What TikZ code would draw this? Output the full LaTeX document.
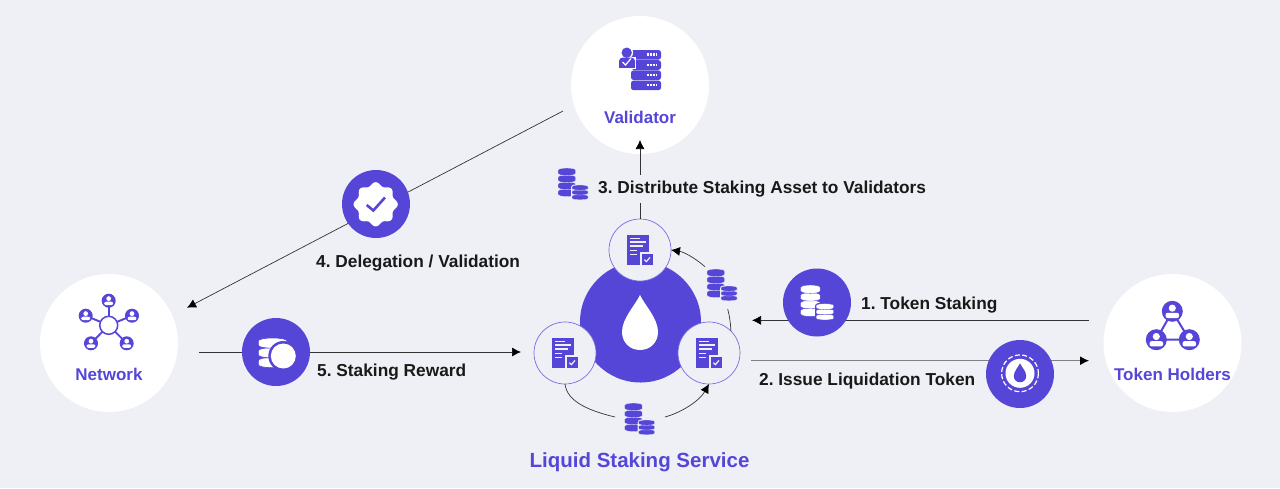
\documentclass[tikz,border=0pt]{standalone}
\usepackage{fontspec}
\usetikzlibrary{arrows.meta}
\setmainfont{Liberation Sans}
\definecolor{pbl}{HTML}{5546D8}
\definecolor{ring}{HTML}{7A6CE4}
\definecolor{page}{HTML}{EFF0F5}
\definecolor{wire}{HTML}{333333}
% one coin: left, top, width, height
\newcommand{\coindisc}[4]{(#1,#2+#4*.3) .. controls (#1,#2-#4*.1) and (#1+#3,#2-#4*.1) .. (#1+#3,#2+#4*.3)
  -- (#1+#3,#2+#4*.7) .. controls (#1+#3,#2+#4*1.1) and (#1,#2+#4*1.1) .. (#1,#2+#4*.7) -- cycle}

\begin{document}
\begin{tikzpicture}
  [ x=1pt, y=-1pt
  , hub/.style={circle, fill=white, minimum size=138pt, inner sep=0pt, outer sep=0pt}
  , doc/.style={circle, draw=ring, line width=.7pt, fill=page, minimum size=62pt, inner sep=0pt, outer sep=0pt}
  , badge/.style={circle, fill=pbl, minimum size=68pt, inner sep=0pt, outer sep=0pt}
  , core/.style={circle, fill=pbl, minimum size=121pt, inner sep=0pt, outer sep=0pt}
  , hubtext/.style={text=pbl, font=\bfseries\frenchspacing\fontsize{17}{20}\selectfont, inner sep=0pt}
  , steptext/.style={text=black!90, anchor=west, font=\bfseries\frenchspacing\fontsize{17.3}{20}\selectfont, inner sep=0pt}
  , flow/.style={draw=wire, line width=.7pt, -{Latex[length=9pt,width=9pt,black]}}
  , plainflow/.style={draw=wire, line width=.7pt}
  , pics/coins/.style 2 args={code={
      \foreach \y in {21,14,7,0}
        \filldraw[fill=#1, draw=#2, line width=.35pt] \coindisc{0}{\y}{17.7}{7.6};
      \fill[#2, rounded corners=3pt] (13,16.5) rectangle (31,32.4);
      \foreach \y in {26.6,21.8,17}
        \filldraw[fill=#1, draw=#2, line width=.3pt] \coindisc{14}{\y}{16}{5.2};
    }}
  , pics/docicon/.style={code={
      \fill[pbl] (-12.7,-15.5) rectangle (9,14.7);
      \foreach \y/\w in {-11.7/10,-8/16,-4/13,.3/7,4.3/7}
        \draw[page, line width=1.3pt] (-10,\y) -- ++(\w,0);
      \fill[page] (.4,2.4) rectangle (14,16.4);
      \fill[pbl] (1.7,3.7) rectangle (12.7,15);
      \draw[page, line width=1.2pt] (4.4,9.6) -- (6.4,11.6) -- (10,7.4);
    }}
  , pics/person/.style={code={
      \fill[pbl] (0,0) circle (10);
      \fill[white] (0,-3) circle (3.4);
      \fill[white, rounded corners=2pt] (-6.4,1.4) rectangle (6.4,6.4);
    }}
  , pics/drop/.style={code={
      \fill (0,-27.5) .. controls (5,-17) and (18,-4) .. (18,9.5)
        .. controls (18,20) and (10,27.5) .. (0,27.5)
        .. controls (-10,27.5) and (-18,20) .. (-18,9.5)
        .. controls (-18,-4) and (-5,-17) .. (0,-27.5) -- cycle;
    }}
  ]

  \fill[page] (0,0) rectangle (1280,488);
  \useasboundingbox (0,0) rectangle (1280,488);

  % big white circles
  \node[hub] (val) at (640,85)  {};
  \node[hub] (net) at (109,343) {};
  \node[hub] (hold) at (1172.5,343) {};

  \node[hubtext, below of=val,  node distance=32pt] (valtext)  {Validator};
  \node[hubtext, below of=net,  node distance=31pt] (nettext)  {Network};
  \node[hubtext, below of=hold, node distance=31pt] (holdtext) {Token Holders};

  % service
  \node[core] (pool) at (640.5,322) {};
  \node[doc]  (docT) at (640,250)   {};
  \node[doc]  (docL) at (565,353)   {};
  \node[doc]  (docR) at (709,353)   {};

  \node[text=pbl, font=\bfseries\fontsize{20.5}{24}\selectfont, inner sep=0pt] (svctext) at (639.5,462) {Liquid Staking Service};

  % free ends
  \coordinate (valin)   at (640,140);
  \coordinate (valout)  at (563,111);
  \coordinate (netin)   at (187,307.7);
  \coordinate (netout)  at (199,352);
  \coordinate (svcin)   at (521,352);
  \coordinate (poolin)  at (752,320.3);
  \coordinate (holdout) at (1089,320.3);
  \coordinate (poolout) at (751,360.7);
  \coordinate (holdin)  at (1089,360.7);
  \coordinate (botL)    at (615,417);
  \coordinate (botR)    at (665,417);
  \coordinate (sideA)   at (727.7,309);
  \coordinate (sideB)   at (705,266.7);

  \draw[flow] (docT) -- (valin);
  \draw[flow] (valout) -- (netin);
  \draw[flow] (netout) -- (svcin);
  \draw[flow] (holdout) -- (poolin);
  \draw[-{Latex[length=9pt,width=9pt,black]}, draw=black!50, line width=1.1pt] (poolout) -- (holdin);

  \draw[plainflow] (docL.south) .. controls (567,402) and (590,411) .. (botL);
  \draw[flow] (botR) .. controls (683,412) and (700,400) .. (docR.south);
  \draw[plainflow] (docR.north east) .. controls (730.5,323) and (729.6,316) .. (sideA);
  \draw[flow] (sideB) .. controls (695,258) and (684,252) .. (docT.east);

  % labels
  \node[steptext, fill=page, inner ysep=6pt, inner xsep=1pt] (step3) at (597,189) {3. Distribute Staking Asset to Validators};
  \node[steptext] (step1) at (861,305) {1. Token Staking};
  \node[steptext] (step2) at (759,381) {2. Issue Liquidation Token};
  \node[steptext] (step4) at (316,263) {4. Delegation / Validation};
  \node[steptext] (step5) at (317,372) {5. Staking Reward};

  % badges
  \node[badge] (chk)  at (376,204)   {};
  \node[badge] (rew)  at (276,352)   {};
  \node[badge] (stk)  at (817,302.5) {};
  \node[badge] (iss)  at (1020,374)  {};

  \fill[white] plot[domain=0:360, samples=145, smooth] ({375.7+(20.4+1.7*cos(8*\x))*cos(\x)}, {204.3+(20.4+1.7*cos(8*\x))*sin(\x)}) -- cycle;
  \draw[pbl, line width=2.6pt] (366.7,205) -- (373.3,210.5) -- (385,197.5);

  % stack with disc
  \foreach \y in {357.5,347.7,338}
    \filldraw[fill=white, draw=pbl, line width=.6pt] \coindisc{258.3}{\y}{28.7}{10.2};
  \fill[pbl] (283.3,356) circle (15);
  \fill[white] (283.3,356) circle (12.5);

  \pic[scale=1.1] at (800.7,285) {coins={white}{pbl}};

  % token in dashed ring
  \fill[white] (1020,373.3) circle (14.5);
  \draw[white, line width=1.2pt, dash pattern=on 5pt off 2.4pt] (1020,373.3) circle (18.4);
  \pic[pbl, scale=.345] at (1020,372.8) {drop};

  % service icons
  \pic[white] at (640,322.5) {drop};
  \pic at (640,250) {docicon};
  \pic at (565,353) {docicon};
  \pic at (709,353) {docicon};
  \pic at (558,168) {coins={pbl}{page}};
  \pic at (707,269) {coins={pbl}{page}};
  \pic at (624.7,403) {coins={pbl}{page}};

  % validator icon
  \foreach \y in {50,60.2,70.4,80.6}
    \fill[pbl, rounded corners=2.5pt] (631,\y) rectangle (661,\y+9.6);
  \foreach \y in {54.5,64.9,75.1,85.3}
    \draw[white, line width=2.2pt, dash pattern=on 2pt off 1pt] (646.5,\y) -- (657,\y);
  \fill[white] (617.5,57) rectangle (636.4,69.3);
  \fill[white] (626.7,52.7) circle (6.4);
  \fill[pbl] (626.7,52.7) circle (5.2);
  \fill[pbl, rounded corners=3.5pt] (619,67.8) -- (619,57.6) -- (635,57.6) -- (635,67.8) -- cycle;
  \fill[pbl] (619,63) rectangle (635,67.8);
  \draw[white, line width=1.2pt] (622.5,62) -- (625.5,65) -- (631,58.5);

  % network icon
  \foreach \px/\py in {108.7/300.7,85.7/315.7,132/315.7,91/343.3,126.7/343.3}
    \draw[pbl, line width=1.9pt] (108.7,325.3) -- (\px,\py);
  \foreach \px/\py in {108.7/300.7,85.7/315.7,132/315.7,91/343.3,126.7/343.3}
    \pic[scale=.7] at (\px,\py) {person};
  \fill[white] (108.7,325.3) circle (9);
  \draw[pbl, line width=1.5pt] (108.7,325.3) circle (9);

  % holders icon
  \draw[pbl, line width=2pt] (1172.3,311.3) -- (1156.3,339.7) -- (1189.3,339.7) -- cycle;
  \foreach \px/\py in {1172.3/311.3,1156.3/339.7,1189.3/339.7}
    \pic[scale=1.05] at (\px,\py) {person};

\end{tikzpicture}
\end{document}
